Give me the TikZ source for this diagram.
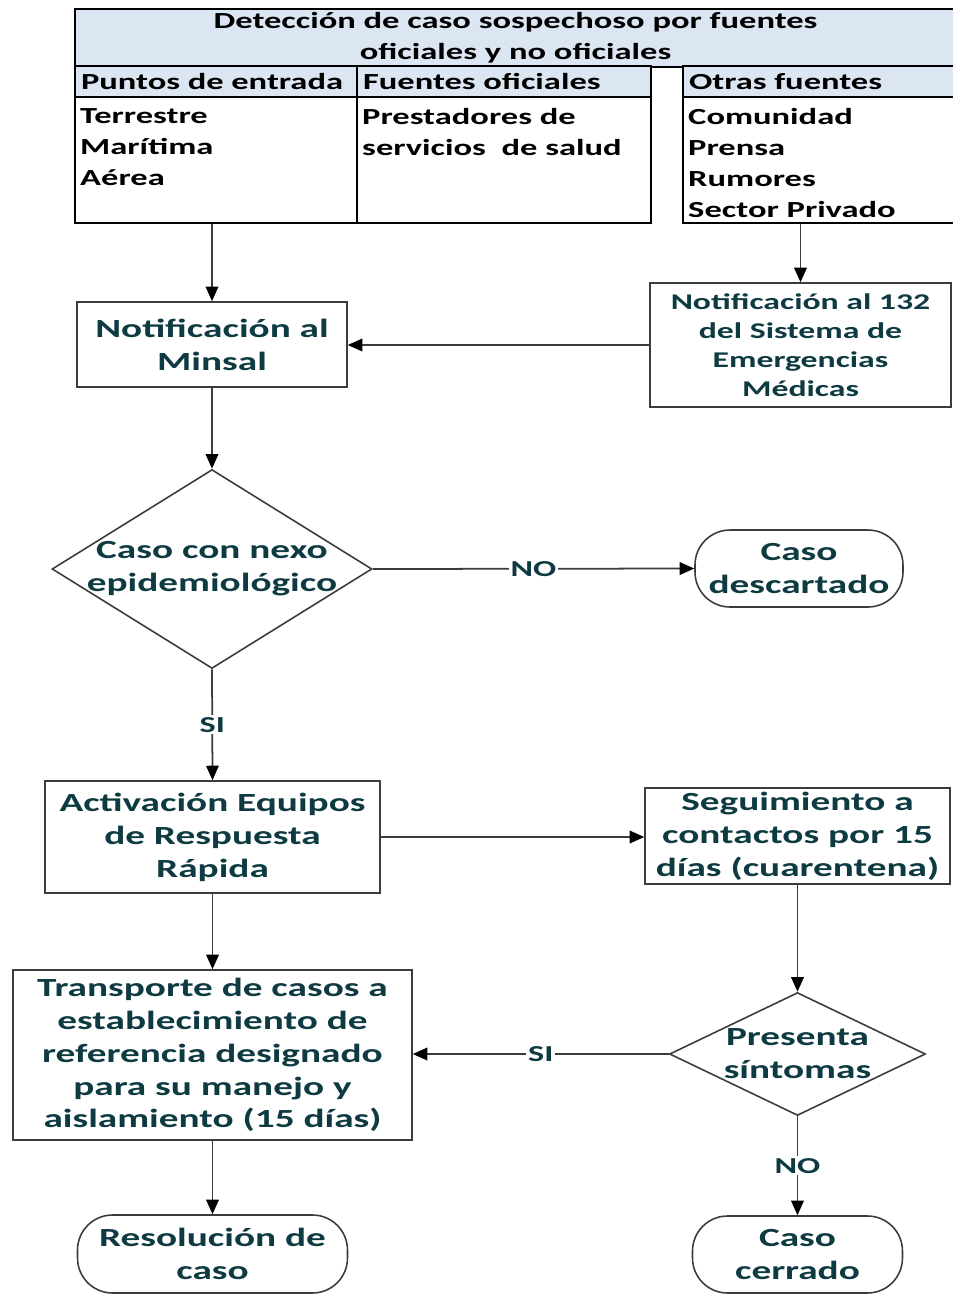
\documentclass[tikz,border=0pt]{standalone}
\usepackage{fontspec}
\setmainfont{Carlito}[FakeStretch=1.5]
\usetikzlibrary{arrows.meta,shapes.geometric}

\definecolor{flowtext}{RGB}{14,58,66}
\definecolor{headfill}{RGB}{220,230,242}
\definecolor{boxline}{RGB}{60,60,60}
\definecolor{linkline}{RGB}{60,60,60}

\newcommand{\flowsize}{\fontsize{14.9}{18.7}\selectfont}
\newcommand{\headsize}{\fontsize{13.1}{17.6}\selectfont}
\newcommand{\semsize}{\fontsize{12.8}{16.4}\selectfont}

\tikzset{
	headcell/.style={draw=black, line width=1.3pt, fill=headfill, font=\bfseries\headsize, text=black, inner xsep=0.12cm, inner ysep=0pt, minimum height=0.62cm, text width=#1, align=left},
	bodycell/.style={draw=black, line width=1.3pt, inner sep=0pt, minimum height=2.52cm},
	listtext/.style={font=\bfseries\headsize, align=left, anchor=north west, inner xsep=0.12cm, inner ysep=0.25cm},
	process/.style={draw=boxline, line width=0.9pt, font=\bfseries\flowsize, text=flowtext, align=center, inner sep=0pt},
	decision/.style={diamond, draw=boxline, line width=0.9pt, inner sep=0pt},
	decisiontext/.style={font=\bfseries\flowsize, text=flowtext, align=center},
	terminal/.style={draw=boxline, line width=0.9pt, rounded corners=0.7cm, font=\bfseries\flowsize, text=flowtext, align=center, inner sep=0pt},
	link/.style={draw=linkline, line width=1pt, -{Triangle[length=2.9mm, width=2.5mm, color=black]}},
	edgelabel/.style={fill=white, inner sep=1pt, font=\bfseries\fontsize{13}{15}\selectfont, text=flowtext}
}

\begin{document}
\begin{tikzpicture}[x=0.02cm, y=-0.02cm]
		%%%%% START %%%%%
		\useasboundingbox (0, 0) rectangle (953, 1296);
		
		% header table
		\node[draw=black, line width=1.3pt, fill=headfill, font=\bfseries\headsize, align=center, minimum width=17.62cm, minimum height=1.16cm, inner sep=0pt] (deteccion) at (515.5, 38) {Detección de caso sospechoso por fuentes\\oficiales y no oficiales};
		
		\node[headcell=5.40cm] (puntos) at (216, 81.5) {Puntos de entrada};
		\node[headcell=5.64cm] (oficiales) at (504, 81.5) {Fuentes oficiales};
		\node[headcell=5.22cm] (otras) at (819.5, 81.5) {Otras fuentes};
		
		\node[bodycell, minimum width=5.64cm] (puntosb) at (216, 160) {};
		\node[bodycell, minimum width=5.88cm] (oficialesb) at (504, 160) {};
		\node[bodycell, minimum width=5.46cm] (otrasb) at (819.5, 160) {};
		
		\node[listtext] (puntoslista) at (puntosb.north west) {Terrestre\\Marítima\\Aérea};
		\node[listtext] (oficialeslista) at (oficialesb.north west) {Prestadores de\\servicios\ \ de salud};
		\node[listtext] (otraslista) at (otrasb.north west) {Comunidad\\Prensa\\Rumores\\Sector Privado};
		
		% flow
		\node[process, minimum width=5.4cm, minimum height=1.7cm] (minsal) at (212, 344.5) {Notificación al\\Minsal};
		\node[process, font=\bfseries\semsize, minimum width=6.02cm, minimum height=2.48cm] (sem) at (800.5, 345) {Notificación al 132\\del Sistema de\\Emergencias\\Médicas};
		
		\node[decision, minimum width=6.4cm, minimum height=3.98cm, label={[decisiontext]center:{Caso con nexo\\epidemiológico}}] (nexo) at (212, 569) {};
		\node[terminal, minimum width=4.16cm, minimum height=1.54cm] (descartado) at (799, 568.5) {Caso\\descartado};
		
		\node[process, minimum width=6.7cm, minimum height=2.24cm] (activacion) at (212.5, 837) {Activación Equipos\\de Respuesta\\Rápida};
		\node[process, minimum width=6.1cm, minimum height=1.92cm] (seguimiento) at (797.5, 836) {Seguimiento a\\contactos por 15\\días (cuarentena)};
		
		\node[process, minimum width=7.98cm, minimum height=3.4cm] (transporte) at (212.5, 1055) {Transporte de casos a\\establecimiento de\\referencia designado\\para su manejo y\\aislamiento (15 días)};
		\node[decision, minimum width=5.12cm, minimum height=2.46cm, label={[decisiontext]center:{Presenta\\síntomas}}] (sintomas) at (797.5, 1054) {};
		
		\node[terminal, minimum width=5.4cm, minimum height=1.56cm] (resolucion) at (212.5, 1254) {Resolución de\\caso};
		\node[terminal, minimum width=4.2cm, minimum height=1.54cm] (cerrado) at (797.5, 1254.5) {Caso\\cerrado};
		
		% connectors
		\draw[link] (puntosb.south -| minsal.north) -- (minsal.north);
		\draw[link] (otrasb.south -| sem.north) -- (sem.north);
		\draw[link] (sem.west) -- (sem.west -| minsal.east);
		\draw[link] (minsal.south) -- (nexo.north);
		\draw[link] (nexo.east) -- node[edgelabel] (nonexo) {NO} (descartado.west);
		\draw[link] (nexo.south) -- node[edgelabel] (sinexo) {SI} (activacion.north);
		\draw[link] (activacion.east) -- (activacion.east -| seguimiento.west);
		\draw[link] (activacion.south) -- (transporte.north);
		\draw[link] (seguimiento.south) -- (sintomas.north);
		\draw[link] (sintomas.west) -- node[edgelabel] (sisintomas) {SI} (sintomas.west -| transporte.east);
		\draw[link] (transporte.south) -- (resolucion.north);
		\draw[link] (sintomas.south) -- node[edgelabel] (nosintomas) {NO} (cerrado.north);
		
		%%%%% END %%%%%
\end{tikzpicture}
\end{document}
